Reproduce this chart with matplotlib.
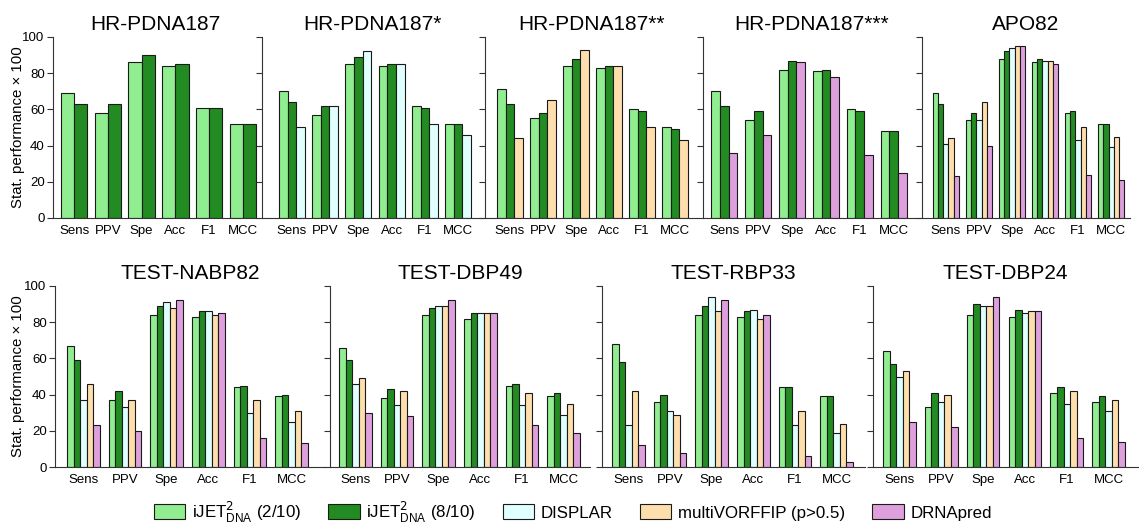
import matplotlib
matplotlib.use("Agg")
import matplotlib.pyplot as plt
from matplotlib.patches import Patch
import numpy as np

plt.rcParams['font.family'] = ['Liberation Sans', 'DejaVu Sans']

metrics = ['Sens', 'PPV', 'Spe', 'Acc', 'F1', 'MCC']
method_labels = [r'iJET$^{2}_{\mathregular{DNA}}$ (2/10)', r'iJET$^{2}_{\mathregular{DNA}}$ (8/10)',
                 'DISPLAR', 'multiVORFFIP (p>0.5)', 'DRNApred']
method_colors = ['#90EE90', '#228B22', '#E0FFFF', '#FFDEAD', '#DDA0DD']

# --- values (x100) ---
hr187_ij2 = [69, 58, 86, 84, 61, 52]
hr187_ij8 = [63, 63, 90, 85, 61, 52]

hr187s_ij2 = [70, 57, 85, 84, 62, 52]
hr187s_ij8 = [64, 62, 89, 85, 61, 52]
hr187s_displar = [50, 62, 92, 85, 52, 46]

hr187ss_ij2 = [71, 55, 84, 83, 60, 50]
hr187ss_ij8 = [63, 58, 88, 84, 59, 49]
hr187ss_mvorf = [44, 65, 93, 84, 50, 43]

hr187sss_ij2 = [70, 54, 82, 81, 60, 48]
hr187sss_ij8 = [62, 59, 87, 82, 59, 48]
hr187sss_drna = [36, 46, 86, 78, 35, 25]

apo82_ij2 = [69, 54, 88, 86, 58, 52]
apo82_ij8 = [63, 58, 92, 88, 59, 52]
apo82_displar = [41, 54, 94, 87, 43, 39]
apo82_mvorf = [44, 64, 95, 87, 50, 45]
apo82_drna = [23, 40, 95, 85, 24, 21]

nabp82_ij2 = [67, 37, 84, 83, 44, 39]
nabp82_ij8 = [59, 42, 89, 86, 45, 40]
nabp82_displar = [37, 33, 91, 86, 30, 25]
nabp82_mvorf = [46, 37, 88, 84, 37, 31]
nabp82_drna = [23, 20, 92, 85, 16, 13]

dbp49_ij2 = [66, 38, 84, 82, 45, 39]
dbp49_ij8 = [59, 43, 88, 85, 46, 41]
dbp49_displar = [46, 34, 89, 85, 34, 29]
dbp49_mvorf = [49, 42, 89, 85, 41, 35]
dbp49_drna = [30, 28, 92, 85, 23, 19]

rbp33_ij2 = [68, 36, 84, 83, 44, 39]
rbp33_ij8 = [58, 40, 89, 86, 44, 39]
rbp33_displar = [23, 31, 94, 87, 23, 19]
rbp33_mvorf = [42, 29, 86, 82, 31, 24]
rbp33_drna = [12, 8, 92, 84, 6, 3]

dbp24_ij2 = [64, 33, 84, 83, 41, 36]
dbp24_ij8 = [57, 41, 90, 87, 44, 39]
dbp24_displar = [50, 36, 89, 85, 35, 31]
dbp24_mvorf = [53, 40, 89, 86, 42, 37]
dbp24_drna = [25, 22, 94, 86, 16, 14]

panels = [
    ('HR-PDNA187', [(0, hr187_ij2), (1, hr187_ij8)]),
    ('HR-PDNA187*', [(0, hr187s_ij2), (1, hr187s_ij8), (2, hr187s_displar)]),
    ('HR-PDNA187**', [(0, hr187ss_ij2), (1, hr187ss_ij8), (3, hr187ss_mvorf)]),
    ('HR-PDNA187***', [(0, hr187sss_ij2), (1, hr187sss_ij8), (4, hr187sss_drna)]),
    ('APO82', [(0, apo82_ij2), (1, apo82_ij8), (2, apo82_displar), (3, apo82_mvorf), (4, apo82_drna)]),
    ('TEST-NABP82', [(0, nabp82_ij2), (1, nabp82_ij8), (2, nabp82_displar), (3, nabp82_mvorf), (4, nabp82_drna)]),
    ('TEST-DBP49', [(0, dbp49_ij2), (1, dbp49_ij8), (2, dbp49_displar), (3, dbp49_mvorf), (4, dbp49_drna)]),
    ('TEST-RBP33', [(0, rbp33_ij2), (1, rbp33_ij8), (2, rbp33_displar), (3, rbp33_mvorf), (4, rbp33_drna)]),
    ('TEST-DBP24', [(0, dbp24_ij2), (1, dbp24_ij8), (2, dbp24_displar), (3, dbp24_mvorf), (4, dbp24_drna)]),
]

# layout in pixels: (axis_left, axis_right, bars_left, bars_right, y_zero, y_hundred)
W, H = 1139, 525
layout = [
    (53, 258, 61, 256, 218, 37),
    (262, 483, 279, 471, 218, 37),
    (485, 697, 497, 688, 218, 37),
    (703, 920, 711, 907, 218, 37),
    (922, 1130, 933, 1124, 218, 37),
    (55, 325, 67, 308, 467, 286),
    (330, 590, 339, 580, 467, 286),
    (602, 865, 612, 853, 467, 286),
    (873, 1138, 883, 1125, 467, 286),
]

GROUP = 0.78
fig = plt.figure(figsize=(W / 100, H / 100), dpi=100)

for i, ((title, series), (al, ar, bl, br, y0, y1)) in enumerate(zip(panels, layout)):
    ax = fig.add_axes([al / W, 1 - y0 / H, (ar - al) / W, (y0 - y1) / H])
    n = len(series)
    bw = GROUP / n
    x = np.arange(len(metrics))
    for k, (mi, vals) in enumerate(series):
        ax.bar(x - GROUP / 2 + bw * (k + 0.5), vals, width=bw, color=method_colors[mi],
               edgecolor='#1a1a1a', linewidth=0.8, zorder=2)
    u = (br - bl) / (len(metrics) - 1 + GROUP)
    ax.set_xlim(-GROUP / 2 - (bl - al) / u, len(metrics) - 1 + GROUP / 2 + (ar - br) / u)
    ax.set_ylim(0, 100)
    ax.set_xticks(x)
    ax.set_xticklabels(metrics, fontsize=9.5)
    ax.tick_params(axis='x', length=0, pad=5)
    ax.set_yticks([0, 20, 40, 60, 80, 100])
    ax.tick_params(axis='y', length=4, width=0.8, color='#333333', labelsize=9.5, pad=2)
    if i in (0, 5):
        ax.set_ylabel('Stat. performance × 100', fontsize=10.8)
        ax.yaxis.set_label_coords((25 - al) / (ar - al), 0.5)
    else:
        ax.set_yticklabels([])
    for s in ('top', 'right'):
        ax.spines[s].set_visible(False)
    ax.spines['left'].set_color('#333333')
    ax.spines['left'].set_linewidth(0.8)
    ax.spines['bottom'].set_color('#333333')
    ax.spines['bottom'].set_linewidth(0.8)
    ax.set_title(title, fontsize=15, pad=5)

handles = [Patch(facecolor=c, edgecolor='#1a1a1a', linewidth=0.8) for c in method_colors]
fig.legend(handles, method_labels, loc='center', bbox_to_anchor=(0.503, 1 - 512 / H), ncol=5,
           frameon=False, handlelength=1.85, handleheight=1.0,
           columnspacing=1.6, handletextpad=0.4,
           prop={'family': ['Liberation Sans', 'DejaVu Sans'], 'size': 12.2})

fig.savefig('out.png', dpi=100)
